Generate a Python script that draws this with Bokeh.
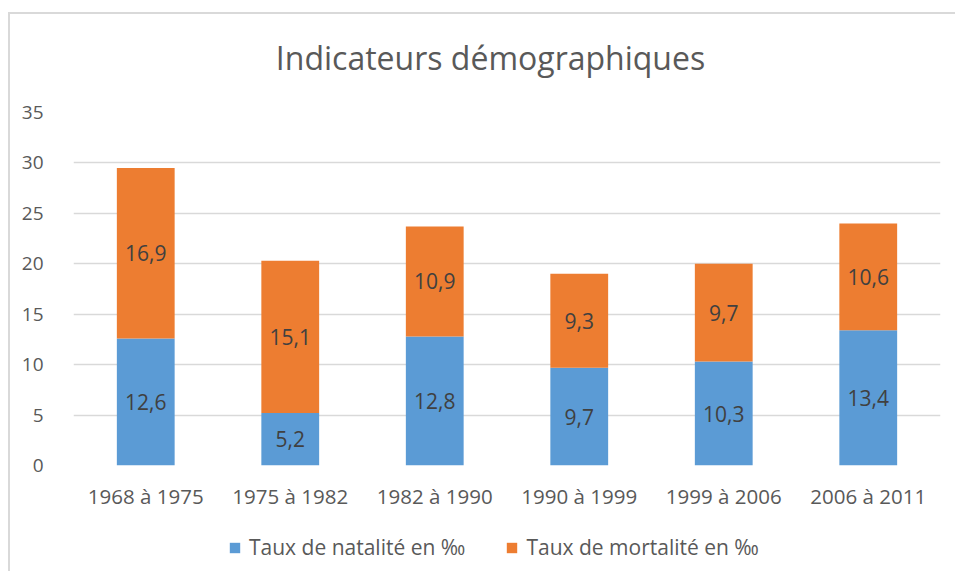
from bokeh.plotting import figure
from bokeh.models import ColumnDataSource, Legend, LegendItem, FixedTicker, Range1d, Spacer, Label
from bokeh.layouts import column, row
from bokeh.core.properties import value
from bokeh.embed import file_html
from bokeh.resources import INLINE

title_text = "Indicateurs démographiques"
categories = ["1968 à 1975", "1975 à 1982", "1982 à 1990", "1990 à 1999", "1999 à 2006", "2006 à 2011"]
natalite = [12.6, 5.2, 12.8, 9.7, 10.3, 13.4]
mortalite = [16.9, 15.1, 10.9, 9.3, 9.7, 10.6]
y_ticks = [0, 5, 10, 15, 20, 25, 30, 35]
series_names = ["Taux de natalité en ‰", "Taux de mortalité en ‰"]
colors = ["#5B9BD5", "#ED7D31"]

FONT = "Open Sans"
TXT = "#595959"

def fr(v):
    return f"{v:.1f}".replace(".", ",")

top_m = [a + b for a, b in zip(natalite, mortalite)]
src = ColumnDataSource(dict(
    cat=categories,
    top_n=natalite, top_m=top_m,
    mid_n=[v / 2 for v in natalite],
    mid_m=[a + b / 2 for a, b in zip(natalite, mortalite)],
    lab_n=[fr(v) for v in natalite],
    lab_m=[fr(v) for v in mortalite],
))

# title strip
p0 = figure(width=945, height=70, x_range=Range1d(0, 1), y_range=Range1d(0, 1),
            output_backend="svg", toolbar_location=None, min_border=0)
p0.axis.visible = False
p0.grid.visible = False
p0.outline_line_color = None
p0.add_layout(Label(x=0.481, y=0.386, text=title_text, text_align="center", text_baseline="middle",
                    text_font=FONT, text_font_size="32px", text_color=TXT))

# main chart
p = figure(x_range=categories, y_range=Range1d(0, 35), width=945, height=437,
           output_backend="svg", toolbar_location=None,
           min_border_left=63, min_border_right=15, min_border_top=28, min_border_bottom=56)

p.vbar(x="cat", bottom=0, top="top_n", width=0.4, source=src, color=colors[0], line_color=None)
p.vbar(x="cat", bottom="top_n", top="top_m", width=0.4, source=src, color=colors[1], line_color=None)

p.text(x="cat", y="mid_n", text="lab_n", source=src, text_align="center", text_baseline="middle",
       text_font=value(FONT), text_font_size="21px", text_color="#404040")
p.text(x="cat", y="mid_m", text="lab_m", source=src, text_align="center", text_baseline="middle",
       text_font=value(FONT), text_font_size="21px", text_color="#404040")

p.yaxis.ticker = FixedTicker(ticks=y_ticks)
for ax in (p.xaxis, p.yaxis):
    ax.axis_line_color = None
    ax.major_tick_line_color = None
    ax.minor_tick_line_color = None
    ax.major_label_text_font = FONT
    ax.major_label_text_color = TXT
p.yaxis.major_label_text_font_size = "19px"
p.xaxis.major_label_text_font_size = "20.5px"
p.yaxis.major_label_standoff = 24
p.xaxis.major_label_standoff = 10
p.xgrid.grid_line_color = None
p.ygrid.grid_line_color = "#D9D9D9"
p.ygrid.grid_line_width = 1.5
p.outline_line_color = None
p.x_range.range_padding = 0

# legend strip: zero-width bars out of the visible y range, only to key the legend
p2 = figure(width=945, height=50, x_range=categories, y_range=Range1d(-2, -1),
            output_backend="svg", toolbar_location=None, min_border=0)
p2.axis.visible = False
p2.grid.visible = False
p2.outline_line_color = None
d1 = p2.vbar(x="cat", bottom=0, top="top_n", width=0, source=src, color=colors[0], line_color=None)
d2 = p2.vbar(x="cat", bottom="top_n", top="top_m", width=0, source=src, color=colors[1], line_color=None)
legend = Legend(items=[LegendItem(label=value(series_names[0]), renderers=[d1]),
                       LegendItem(label=value(series_names[1]), renderers=[d2])],
                orientation="horizontal", location=(155, 10))
legend.label_text_font = FONT
legend.label_text_font_size = "21px"
legend.label_text_color = TXT
legend.glyph_width = 13
legend.glyph_height = 13
legend.spacing = 40
legend.label_standoff = 8
legend.border_line_color = None
legend.background_fill_alpha = 0
p2.add_layout(legend)

inner = column(p0, p, p2, styles={"border-top": "2px solid #D9D9D9", "border-left": "2px solid #D9D9D9"})
layout = column(Spacer(height=12, width=10), row(Spacer(width=8, height=10), inner))

open("out.html", "w").write(file_html(layout, INLINE))
